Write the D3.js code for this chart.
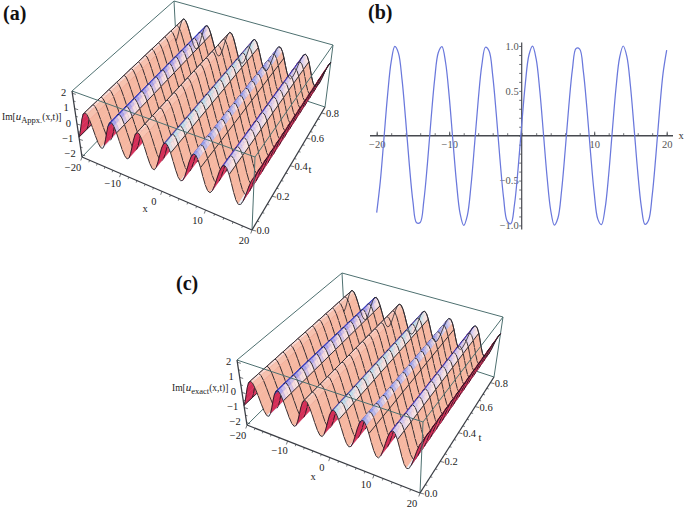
<!DOCTYPE html>
<html><head><meta charset="utf-8">
<script src="https://cdn.jsdelivr.net/npm/d3@7"></script>
<style>
html,body{margin:0;padding:0;background:#fff}
text{font-family:"Liberation Serif",serif}
</style></head><body><div id="chart"></div>
<script>
// ---- data ----
const xSamples = d3.range(-20, 20.01, 0.5);
const profile = [-0.857,-0.506,-0.03,0.453,0.825,0.995,0.921,0.622,0.171,-0.323,-0.735,-0.971,-0.967,-0.726,-0.308,0.186,0.634,0.927,0.993,0.816,0.439,-0.045,-0.518,-0.866,-1.0,-0.89,-0.561,-0.096,0.393,0.786,0.986,0.945,0.672,0.236,-0.26,-0.691,-0.952,-0.981,-0.77,-0.37,0.12,0.581,0.9,0.999,0.853,0.498,0.022,-0.46,-0.831,-0.996,-0.918,-0.614,-0.163,0.331,0.743,0.973,0.965,0.72,0.3,-0.194,-0.64,-0.93,-0.992,-0.811,-0.432,0.054,0.526,0.869,1.0,0.885,0.554,0.087,-0.4,-0.79,-0.988,-0.942,-0.666,-0.228,0.268,0.697,0.955];
const tSamples = [0,0.06,0.12,0.18,0.24,0.3,0.36,0.42,0.48,0.54,0.6,0.66,0.72,0.78,0.85];
const xMesh = [-20,-17.5,-10,-5,2.5,9,15,17.5,20];
const peakX = [-17.4,-11.1,-4.8,1.45,7.75,14];
const bandTints = ["#f9d4c8","#8a8af0","#f8c8b8","#a8dcf0","#8c9cf2","#c4c0f6"];
const bandWidths = [0.5,1.0,0.5,1.0,1.0,1.0];
const crestEdge = ["#2c2a3a","#3b3fc0","#20243e","#3a55b0","#3038b0","#3b3fc0"];
const xTicks3d = [-20,-10,0,10,20];
const xMinor3d = d3.range(-20,20.01,2);
const tTicks3d = [0,0.2,0.4,0.6,0.8];
const tMinor3d = d3.range(0,0.801,0.05);
const zTicks3d = [-2,-1,0,1,2];
const zMinor3d = d3.range(-2,2.01,0.5);
const xTicks2d = [-20,-10,10,20];
const xMinor2d = d3.range(-20,20.01,2);
const yTicks2d = [-1,-0.5,0.5,1];
const yMinor2d = d3.range(-1,1.01,0.1);

// ---- layout of the perspective boxes ----
const boxA = {
  bottom:[[82,157],[252,230],[325,107],[177,58]],
  top:[[72,91],[255,157],[333,45],[174,1]],
  sub:"Appx.", zLabel:[2,120], xLabel:[145,212], tLabel:[310,173],
  tag:"(a)", tagAt:[3,20]
};
const boxC = {
  bottom:[[247,425],[420,493],[494,377],[345,328]],
  top:[[237,360],[423,422],[503,317],[342,273]],
  sub:"exact", zLabel:[172,391], xLabel:[313,480], tLabel:[480,441],
  tag:"(c)", tagAt:[176,290]
};

const svg = d3.select("#chart").append("svg").attr("width",685).attr("height",508).style("display","block");
const defs = svg.append("defs");
defs.append("filter").attr("id","soft").append("feGaussianBlur").attr("stdDeviation",0.4);

function homography(q){
  const [[x0,y0],[x1,y1],[x2,y2],[x3,y3]] = q;
  const dx1=x1-x2,dx2=x3-x2,sx=x0-x1+x2-x3,dy1=y1-y2,dy2=y3-y2,sy=y0-y1+y2-y3;
  const den=dx1*dy2-dx2*dy1;
  const g=(sx*dy2-dx2*sy)/den,h=(dx1*sy-sx*dy1)/den;
  const a=x1-x0+g*x1,b=x3-x0+h*x3,d=y1-y0+g*y1,e=y3-y0+h*y3;
  return (u,v)=>{const w=g*u+h*v+1;return [(a*u+b*v+x0)/w,(d*u+e*v+y0)/w];};
}

function surfacePanel(box){
  const gRoot = svg.append("g");
  const xS = d3.scaleLinear().domain([-20,20]).range([0,1]);
  const tS = d3.scaleLinear().domain([0,0.85]).range([0,1]);
  const zS = d3.scaleLinear().domain([-2.15,2.15]).range([0,1]);
  const hb = homography(box.bottom), ht = homography(box.top);
  const P = (x,t,z)=>{
    const u=xS(x),v=tS(t),w=zS(z),b=hb(u,v),a=ht(u,v);
    return [b[0]+(a[0]-b[0])*w,b[1]+(a[1]-b[1])*w];
  };
  const lineG = d3.line();
  const edge=(g,a,b,col,wd)=>g.append("path").attr("d",lineG([a,b])).attr("stroke",col).attr("stroke-width",wd).attr("fill","none");
  const boxCol="#4e7070";

  const back = gRoot.append("g").attr("filter","url(#soft)");
  edge(back,P(-20,.85,-2.15),P(-20,.85,2.15),boxCol,1);
  edge(back,P(20,.85,-2.15),P(20,.85,2.15),boxCol,1);
  edge(back,P(-20,.85,2.15),P(20,.85,2.15),boxCol,1);
  edge(back,P(-20,.85,2.15),P(-20,0,2.15),boxCol,1);
  edge(back,P(-20,0,-2.15),P(-20,.85,-2.15),boxCol,1);
  edge(back,P(-20,.85,-2.15),P(20,.85,-2.15),boxCol,1);

  // painter's order: far x to near x, far t to near t
  const cells=[];
  const faceRamp=d3.interpolateRgb("#f9cfc0","#f6b7a1");
  for(let i=0;i<xSamples.length-1;i++){
    for(let j=tSamples.length-2;j>=0;j--){
      const x0=xSamples[i],x1=xSamples[i+1],t0=tSamples[j],t1=tSamples[j+1];
      const z0=profile[i],z1=profile[i+1],xm=(x0+x1)/2;
      const a=P(x0,t0,z0),b=P(x1,t0,z1),c=P(x1,t1,z1),d=P(x0,t1,z0);
      const rising=z1>z0;
      const idx=d3.bisect(peakX,xm)-1;
      const nextIdx=idx+1;
      if(rising){
        let col=j%2?"#de3a63":"#d42f58";
        if(z1>0.9&&nextIdx<crestEdge.length) col=crestEdge[nextIdx];
        else if(z0<-0.93&&xm>-19) col="#eceef6";
        cells.push({pts:[a,b,c,d],col});
      } else if(idx>=0 && xm-peakX[idx]<bandWidths[idx]){
        const f=(xm-peakX[idx])/bandWidths[idx];
        for(let k=0;k<3;k++){
          const s0=t1-(t1-t0)*k/3,s1=t1-(t1-t0)*(k+1)/3;
          const mix=Math.min(1,0.05+f*0.7+(2-k)*0.28);
          const col=d3.interpolateRgb(bandTints[idx],"#fbe4e0")(mix);
          cells.push({pts:[P(x0,s1,z0),P(x1,s1,z1),P(x1,s0,z1),P(x0,s0,z0)],col});
        }
      } else {
        const m=idx>=0?Math.min(1,(xm-peakX[idx])/1.2):1;
        cells.push({pts:[a,b,c,d],col:faceRamp(m)});
      }
      // mesh lines
      cells.push({line:true,pts:[d,c]});
      if(j===0) cells.push({line:true,pts:[a,b]});
      if(xMesh.includes(x0)) cells.push({line:true,pts:[a,d],grey:x0>17});
      if(i===xSamples.length-2) cells.push({line:true,pts:[b,c]});
    }
  }
  const surf=gRoot.append("g").attr("filter","url(#soft)");
  surf.selectAll("path").data(cells).join("path")
    .attr("d",c=>c.line?lineG(c.pts):lineG(c.pts)+"Z")
    .attr("fill",c=>c.line?"none":c.col)
    .attr("stroke",c=>c.line?(c.grey?"#6a6a72":"#15151c"):c.col)
    .attr("stroke-width",c=>c.line?0.85:0.5);
  surf.append("path").attr("d",lineG(xSamples.map((x,i)=>P(x,.85,profile[i])))).attr("fill","none").attr("stroke","#26262e").attr("stroke-width",.8);

  const front=gRoot.append("g").attr("filter","url(#soft)");
  edge(front,P(-20,0,2.15),P(20,0,2.15),boxCol,1);
  edge(front,P(20,0,2.15),P(20,.85,2.15),boxCol,1);
  edge(front,P(20,0,-2.15),P(20,0,2.15),boxCol,1);
  const axCol="#3a3d44";
  edge(front,P(-20,0,-2.15),P(20,0,-2.15),axCol,1.3);
  edge(front,P(20,0,-2.15),P(20,.85,-2.15),axCol,1.3);
  edge(front,P(-20,0,-2.15),P(-20,0,2.15),axCol,1.3);

  xMinor3d.forEach(x=>{const p=P(x,0,-2.15),L=xTicks3d.includes(x)?3.5:2;edge(front,p,[p[0]-L*.35,p[1]+L],axCol,.7);});
  tMinor3d.forEach(t=>{const p=P(20,t,-2.15),L=tTicks3d.includes(+t.toFixed(2))?4:2;edge(front,p,[p[0]+L,p[1]+L*.25],axCol,.7);});
  zMinor3d.forEach(z=>{const p=P(-20,0,z),L=zTicks3d.includes(z)?3.5:2;edge(front,p,[p[0]+L,p[1]+L*.3],axCol,.7);});

  const fs=10.5;
  const T=(x,y,s,anchor="middle")=>gRoot.append("text").attr("x",x).attr("y",y).attr("font-size",fs).attr("fill","#222").attr("text-anchor",anchor).text(s);
  xTicks3d.forEach(x=>{const p=P(x,0,-2.15);const off=(x===-20)?[-9,13.5]:[-8,13.5];
    T(p[0]+off[0],p[1]+off[1],x<0?"\u2212"+(-x):""+x);});
  tTicks3d.forEach(t=>{const p=P(20,t,-2.15);T(p[0]+11,p[1]+4,t.toFixed(1));});
  zTicks3d.forEach(z=>{const p=P(-20,0,z);T(p[0]-6,p[1]+2.5,z<0?"\u2212"+(-z):""+z,"end");});
  T(box.xLabel[0],box.xLabel[1],"x");
  T(box.tLabel[0],box.tLabel[1],"t");
  const lab=gRoot.append("text").attr("x",box.zLabel[0]).attr("y",box.zLabel[1]).attr("font-size",9.5).attr("fill","#222");
  lab.append("tspan").text("Im[");
  lab.append("tspan").attr("font-style","italic").attr("font-size",11).text("u");
  lab.append("tspan").attr("dy",2.5).attr("font-size",8.5).text(box.sub);
  lab.append("tspan").attr("dy",-2.5).text("(x,t)]");

  svg.append("text").attr("x",box.tagAt[0]).attr("y",box.tagAt[1]).attr("font-size",20).attr("font-weight","bold").attr("fill","#111").text(box.tag);
}

surfacePanel(boxA);
surfacePanel(boxC);

// ---- panel (b) ----
(function(){
  const x=d3.scaleLinear().domain([-20,20]).range([376.7,666.7]);
  const y=d3.scaleLinear().domain([-1,1]).range([225.4,46]);
  const g=svg.append("g");
  const ac="#46494f";
  const txt="#555";
  g.append("g").attr("transform",`translate(0,${y(0)})`)
    .call(d3.axisBottom(x).tickValues(xMinor2d).tickSize(-2.5).tickFormat(""))
    .call(s=>s.select(".domain").remove())
    .call(s=>s.selectAll("line").attr("stroke",ac).attr("stroke-width",.8));
  g.append("g").attr("transform",`translate(${x(0)},0)`)
    .call(d3.axisRight(y).tickValues(yMinor2d).tickSize(-2.5).tickFormat(""))
    .call(s=>s.select(".domain").remove())
    .call(s=>s.selectAll("line").attr("stroke",ac).attr("stroke-width",.8));
  g.append("g").attr("transform",`translate(0,${y(0)})`)
    .call(d3.axisBottom(x).tickValues(xTicks2d).tickSize(-4).tickPadding(5).tickFormat(d=>d<0?"\u2212"+(-d):d))
    .call(s=>s.select(".domain").remove())
    .call(s=>s.selectAll("line").attr("stroke",ac).attr("stroke-width",.9))
    .call(s=>s.selectAll("text").attr("font-size",10.5).attr("font-family","Liberation Serif").attr("fill",txt));
  g.append("g").attr("transform",`translate(${x(0)},0)`)
    .call(d3.axisLeft(y).tickValues(yTicks2d).tickSize(0).tickPadding(3).tickFormat(d=>(d<0?"\u2212":"")+Math.abs(d).toFixed(1)))
    .call(s=>s.select(".domain").remove())
    .call(s=>s.selectAll("text").attr("font-size",10.5).attr("font-family","Liberation Serif").attr("fill",txt));
  g.append("line").attr("x1",370).attr("x2",673).attr("y1",y(0)).attr("y2",y(0)).attr("stroke",ac).attr("stroke-width",1.5);
  g.append("line").attr("x1",x(0)).attr("x2",x(0)).attr("y1",42.5).attr("y2",229.5).attr("stroke",ac).attr("stroke-width",1.2);
  g.append("path").datum(profile)
    .attr("d",d3.line().x((d,i)=>x(xSamples[i])).y(d=>y(d)).curve(d3.curveCatmullRom))
    .attr("fill","none").attr("stroke","#6a78dc").attr("stroke-width",1.25);
  g.append("text").attr("x",681).attr("y",139).attr("font-size",10.5).attr("text-anchor","middle").attr("fill","#333").text("x");
  svg.append("text").attr("x",368).attr("y",19).attr("font-size",20).attr("font-weight","bold").attr("fill","#111").text("(b)");
})();
</script></body></html>
